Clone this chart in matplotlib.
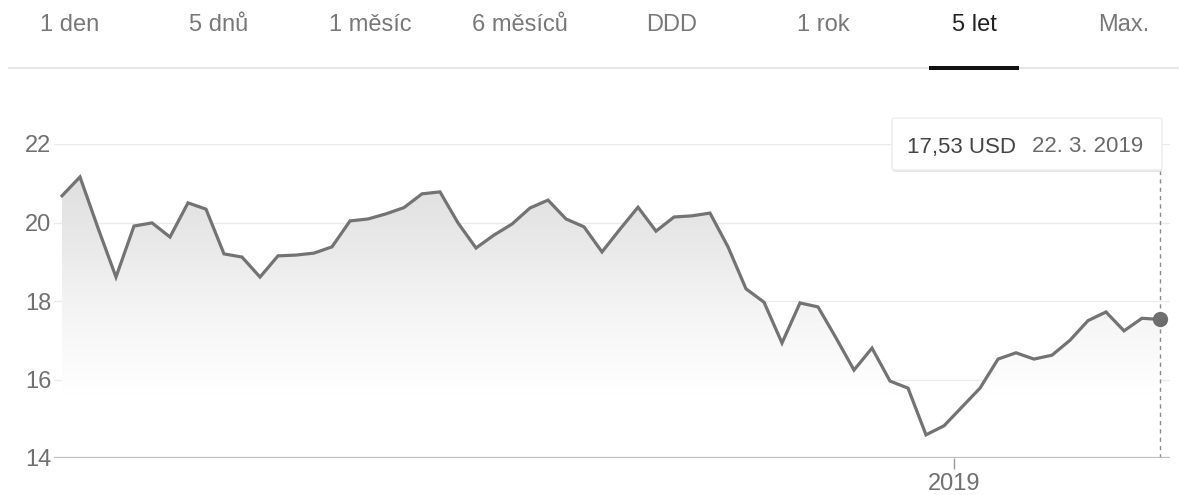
import numpy as np
import pandas as pd
import matplotlib
matplotlib.use("Agg")
import matplotlib.pyplot as plt
import matplotlib.dates as mdates
from matplotlib.patches import Rectangle, FancyBboxPatch
from matplotlib.colors import LinearSegmentedColormap

plt.rcParams["font.family"] = ["Liberation Sans", "DejaVu Sans"]

# weekly closing prices (USD)
prices = [20.68, 21.16, 19.86, 18.61, 19.91, 19.99, 19.63, 20.50, 20.34, 19.20,
          19.12, 18.61, 19.15, 19.17, 19.22, 19.38, 20.04, 20.09, 20.22, 20.38,
          20.73, 20.78, 19.99, 19.35, 19.68, 19.96, 20.37, 20.57, 20.09, 19.89,
          19.25, 19.83, 20.39, 19.78, 20.14, 20.17, 20.24, 19.38, 18.31, 17.97,
          16.93, 17.95, 17.85, 17.06, 16.24, 16.80, 15.96, 15.78, 14.59, 14.82,
          15.30, 15.78, 16.52, 16.68, 16.52, 16.62, 17.00, 17.50, 17.72, 17.24,
          17.56, 17.53]
dates = pd.date_range(end="2019-03-22", periods=len(prices), freq="7D")

tabs = ["1 den", "5 dnů", "1 měsíc", "6 měsíců", "DDD", "1 rok", "5 let", "Max."]
tab_x = [70, 219, 370, 520, 672, 823, 974, 1124]
active_tab = "5 let"

y_ticks = [14, 16, 18, 20, 22]
last_label = "17,53 USD"
last_date = "22. 3. 2019"

W, H = 1179, 495
fig = plt.figure(figsize=(W / 100, H / 100), dpi=100)


def fx(px):
    return px / W


def fy(py):
    return 1 - py / H


# plot area
ax = fig.add_axes([fx(54), fy(458), fx(1170) - fx(54), fy(144) - fy(458)])
x = mdates.date2num(dates)
px_per_day = (1160 - 62) / (x[-1] - x[0])

# gradient fill under the line
grad = LinearSegmentedColormap.from_list("g", ["#ffffff", "#f6f6f6", "#eaeaea", "#dfdfdf"])
poly = ax.fill_between(x, prices, 14, color="none", lw=0)
yy = np.linspace(14, 22, 256).reshape(-1, 1)
vals = np.clip((yy - 15.6) / (21.2 - 15.6), 0, 1)
img = ax.imshow(vals, cmap=grad, vmin=0, vmax=1, origin="lower", aspect="auto",
                extent=[x[0], x[-1], 14, 22], zorder=1)
img.set_clip_path(poly.get_paths()[0], transform=ax.transData)
ax.set_xlim(x[0] - 8 / px_per_day, x[-1] + 10 / px_per_day)
ax.set_ylim(14, 22)

ax.plot(x, prices, color="#737373", lw=2.3, zorder=3, solid_joinstyle="miter")
ax.plot(x[-1], prices[-1], "o", color="#6e6e6e", ms=10, zorder=4)
ax.plot([x[-1], x[-1]], [14, 21.35], color="#8a8a8a", lw=1, ls=(0, (3, 3)), zorder=2)

for v in y_ticks[1:]:
    ax.axhline(v, color="#ebebeb", lw=1, zorder=0)
ax.axhline(14, color="#bdbdbd", lw=1.6, zorder=2)

for s in ax.spines.values():
    s.set_visible(False)
ax.set_yticks(y_ticks)
ax.tick_params(axis="y", length=0, pad=2, labelsize=17, labelcolor="#707070")
ax.set_xticks([mdates.date2num(pd.Timestamp("2019-01-01"))])
ax.set_xticklabels(["2019"])
ax.tick_params(axis="x", length=8, width=1, color="#9a9a9a", pad=3,
               labelsize=17, labelcolor="#707070")

# period selector
fig.add_artist(Rectangle((fx(8), fy(69)), fx(1179) - fx(8), 2 / H,
                         transform=fig.transFigure, color="#e6e6e6", lw=0))
for t, xp in zip(tabs, tab_x):
    fig.text(fx(xp), fy(25), t, ha="center", va="center", fontsize=17,
             color="#222222" if t == active_tab else "#787878")
fig.add_artist(Rectangle((fx(929), fy(70)), fx(90), 4 / H,
                         transform=fig.transFigure, color="#111111", lw=0))

# hover tooltip for the last point
fig.add_artist(FancyBboxPatch((fx(893), fy(172)), fx(269), 52 / H,
                              boxstyle="round,pad=0,rounding_size=0.003",
                              transform=fig.transFigure, fc="#e2e2e2", ec="none"))
fig.add_artist(FancyBboxPatch((fx(892), fy(170)), fx(270), 52 / H,
                              boxstyle="round,pad=0,rounding_size=0.003",
                              transform=fig.transFigure, fc="white", ec="#ededed", lw=1))
fig.text(fx(1016), fy(147), last_label, ha="right", va="center", fontsize=16, color="#444444")
fig.text(fx(1032), fy(147), last_date, ha="left", va="center", fontsize=16, color="#6a6a6a")

fig.savefig("out.png", dpi=100, facecolor="white")
